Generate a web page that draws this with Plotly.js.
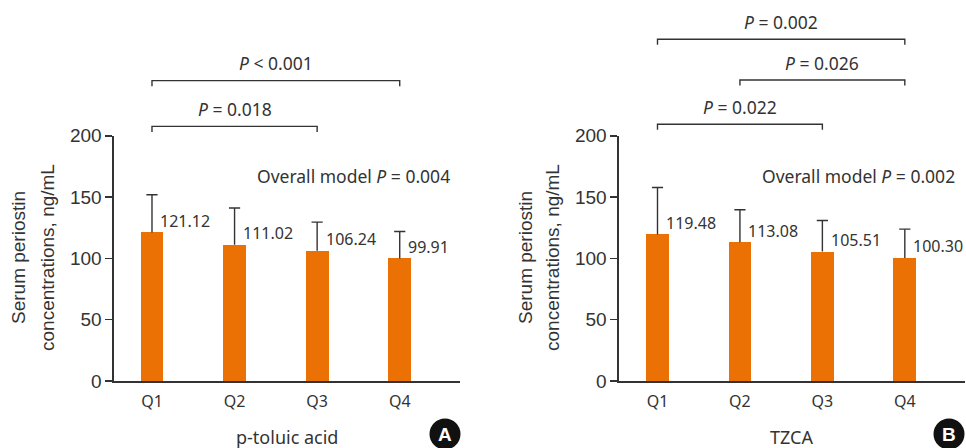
<!DOCTYPE html>
<html>
<head>
<meta charset="utf-8">
<script src="https://cdn.plot.ly/plotly-3.0.1.min.js"></script>
<style>html,body{margin:0;padding:0;background:#fff;}#chart{width:966px;height:448px;}</style>
</head>
<body>
<div id="chart"></div>
<script>
// ---- Data ----
const categories = ["Q1", "Q2", "Q3", "Q4"];
const toluicMeans = [121.12, 111.02, 106.24, 99.91];
const toluicSD = [30.7, 30.0, 23.3, 22.0];
const tzcaMeans = [119.48, 113.08, 105.51, 100.30];
const tzcaSD = [38.3, 26.5, 25.4, 23.5];
const toluicOverall = "0.004";
const tzcaOverall = "0.002";
// pairwise comparisons: [from index, to index, label]
const toluicPairs = [[0, 2, "<i>P</i> = 0.018"], [0, 3, "<i>P</i> &lt; 0.001"]];
const tzcaPairs = [[0, 2, "<i>P</i> = 0.022"], [1, 3, "<i>P</i> = 0.026"], [0, 3, "<i>P</i> = 0.002"]];
const xTitles = ["p-toluic acid", "TZCA"];
const panelLetters = ["A", "B"];

// ---- Layout geometry ----
const W = 966, H = 448;
const orange = "#EC7105";
const ink = "#333333";
const yRange = [0, 200];
const yDom = [1 - 381 / H, 1 - 135.7 / H];
const xDomA = [114 / W, 460 / W];
const xDomB = [619 / W, 965 / W];
const xRangeA = [-0.46, 3.73];
const xRangeB = [-0.467, 3.73];
const bracketLevelsA = [207.6, 244.9];
const bracketLevelsB = [209.3, 245.4, 278.6];
const tickDrop = 4.5;   // bracket end tick length in data units
const labelLift = 14;   // text above bracket in data units

function xp(dom, rng, v) { return dom[0] + (v - rng[0]) / (rng[1] - rng[0]) * (dom[1] - dom[0]); }
function yp(v) { return yDom[0] + (v - yRange[0]) / (yRange[1] - yRange[0]) * (yDom[1] - yDom[0]); }

const idx = categories.map((c, i) => i);

function barTraces(means, sd, xa, ya) {
  return [{
    type: "bar", x: idx, y: means, xaxis: xa, yaxis: ya,
    width: 0.275, marker: {color: orange, line: {width: 0}},
    hoverinfo: "skip", showlegend: false
  }, {
    // upper-only error whisker: cap marker at mean+SD, line down to the bar top
    type: "scatter", mode: "markers", x: idx, y: means.map((m, i) => m + sd[i]), xaxis: xa, yaxis: ya,
    marker: {symbol: "line-ew", size: 8, line: {color: ink, width: 1.4}},
    error_y: {type: "data", symmetric: false, array: sd.map(() => 0), arrayminus: sd,
      color: ink, thickness: 1.4, width: 0},
    hoverinfo: "skip", showlegend: false
  }];
}

const traces = [...barTraces(toluicMeans, toluicSD, "x", "y"), ...barTraces(tzcaMeans, tzcaSD, "x2", "y2")];

const shapes = [];
const annotations = [];
const txtFont = {family: "Noto Sans, Roboto, sans-serif", size: 17.5, color: ink};
const valFont = {family: "Noto Sans, Roboto, sans-serif", size: 16, color: ink};
const ytFont = {family: "Liberation Sans, Arial, sans-serif", size: 19, color: ink};

function addPanel(means, pairs, levels, dom, rng, xref, yref, overall, xTitle, letter, titleX, letterX, ytitleX) {
  // value labels
  means.forEach((m, i) => {
    annotations.push({xref: xref, yref: yref, x: i + 0.09, y: m + 9.5, xanchor: "left", yanchor: "middle",
      text: m.toFixed(2), showarrow: false, font: valFont, borderpad: 0});
  });
  // brackets
  pairs.forEach((p, k) => {
    const lv = levels[k];
    const x0 = xp(dom, rng, p[0]), x1 = xp(dom, rng, p[1]);
    shapes.push({type: "path", xref: "paper", yref: "paper",
      path: `M ${x0} ${yp(lv - tickDrop)} L ${x0} ${yp(lv)} L ${x1} ${yp(lv)} L ${x1} ${yp(lv - tickDrop)}`,
      line: {color: ink, width: 1.4}});
    annotations.push({xref: "paper", yref: "paper", x: (x0 + x1) / 2, y: yp(lv + labelLift),
      xanchor: "center", yanchor: "middle", text: p[2], showarrow: false, font: txtFont});
  });
  // overall model
  annotations.push({xref: "paper", yref: "paper", x: xp(dom, rng, 3.73) - 8 / W, y: 1 - 175.7 / H,
    xanchor: "right", yanchor: "middle", text: "Overall model <i>P</i> = " + overall,
    showarrow: false, font: txtFont});
  // x title
  annotations.push({xref: "paper", yref: "paper", x: titleX / W, y: 1 - 437 / H, xanchor: "center", yanchor: "middle",
    text: xTitle, showarrow: false, font: {family: "Noto Sans, Roboto, sans-serif", size: 18, color: ink}});
  // y title (two lines)
  annotations.push({xref: "paper", yref: "paper", x: ytitleX[0] / W, y: 1 - 258 / H, xanchor: "center", yanchor: "middle",
    text: "Serum periostin", textangle: -90, showarrow: false, font: ytFont});
  annotations.push({xref: "paper", yref: "paper", x: ytitleX[1] / W, y: 1 - 258 / H, xanchor: "center", yanchor: "middle",
    text: "concentrations, ng/mL", textangle: -90, showarrow: false, font: ytFont});
  // panel letter
  const cx = letterX, cy = 434, r = 15.5;
  shapes.push({type: "circle", xref: "paper", yref: "paper",
    x0: (cx - r) / W, x1: (cx + r) / W, y0: 1 - (cy + r) / H, y1: 1 - (cy - r) / H,
    fillcolor: "#111111", line: {width: 0}});
  annotations.push({xref: "paper", yref: "paper", x: cx / W, y: 1 - (cy + 0.5) / H, xanchor: "center", yanchor: "middle",
    text: "<b>" + letter + "</b>", showarrow: false,
    font: {family: "Liberation Sans, Arial, sans-serif", size: 19, color: "#ffffff"}});
}

addPanel(toluicMeans, toluicPairs, bracketLevelsA, xDomA, xRangeA, "x", "y", toluicOverall, xTitles[0], panelLetters[0], 286.7, 445, [18, 47]);
addPanel(tzcaMeans, tzcaPairs, bracketLevelsB, xDomB, xRangeB, "x2", "y2", tzcaOverall, xTitles[1], panelLetters[1], 791.7, 949, [525, 552]);

function xAxis(dom, rng, anchor) {
  return {domain: dom, range: rng, anchor: anchor, tickmode: "array", tickvals: idx, ticktext: categories,
    showline: true, linecolor: ink, linewidth: 1.6, ticks: "outside", ticklen: 5, tickcolor: "rgba(0,0,0,0)",
    showgrid: false, zeroline: false, fixedrange: true, automargin: false,
    tickfont: {family: "Noto Sans, Roboto, sans-serif", size: 16, color: ink}};
}
function yAxis(anchor) {
  return {domain: yDom, range: yRange, anchor: anchor, tickvals: [0, 50, 100, 150, 200],
    showline: true, linecolor: ink, linewidth: 1.6, ticks: "outside", ticklen: 7, tickwidth: 1.6, tickcolor: ink,
    showgrid: false, zeroline: false, fixedrange: true, automargin: false,
    tickfont: {family: "Liberation Sans, Arial, sans-serif", size: 19, color: ink}};
}

const layout = {
  width: W, height: H, margin: {l: 0, r: 0, t: 0, b: 0},
  paper_bgcolor: "#ffffff", plot_bgcolor: "#ffffff", showlegend: false,
  xaxis: xAxis(xDomA, xRangeA, "y"), yaxis: yAxis("x"),
  xaxis2: xAxis(xDomB, xRangeB, "y2"), yaxis2: yAxis("x2"),
  shapes: shapes, annotations: annotations, bargap: 0
};

Plotly.newPlot("chart", traces, layout, {displayModeBar: false, staticPlot: true});
</script>
</body>
</html>
